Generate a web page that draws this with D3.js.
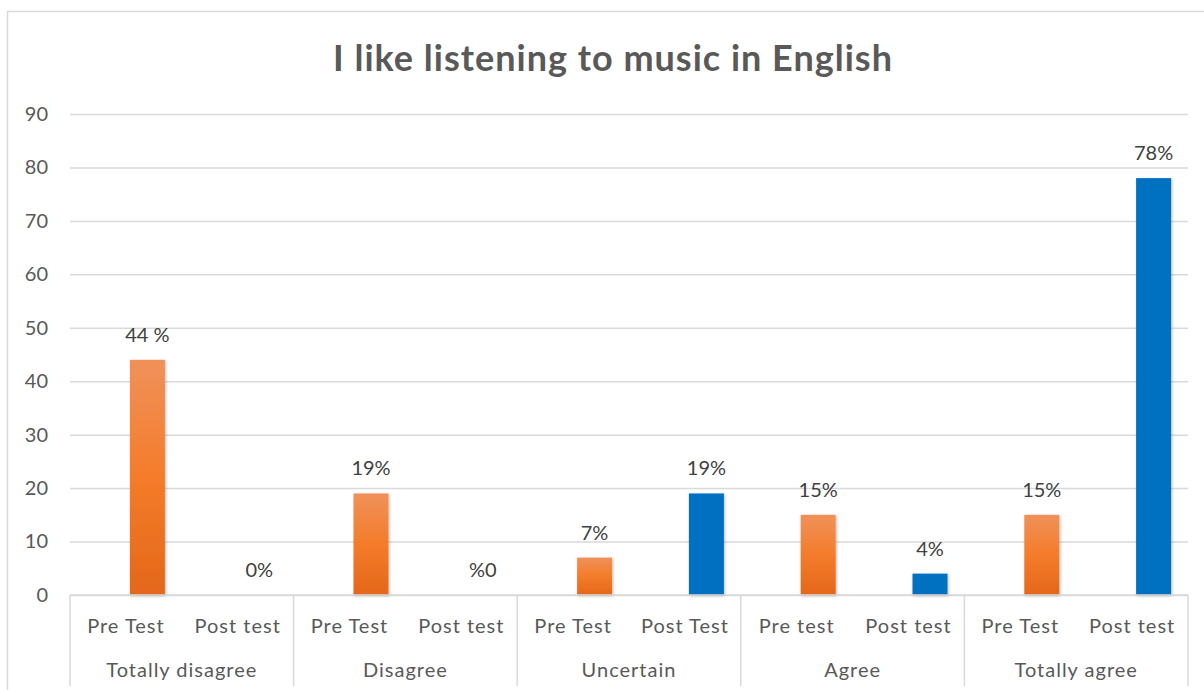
<!DOCTYPE html>
<html>
<head>
<meta charset="utf-8">
<script src="https://cdn.jsdelivr.net/npm/d3@7"></script>
<style>
  html, body { margin: 0; padding: 0; background: #ffffff; }
  svg { display: block; font-family: Lato, "Open Sans", sans-serif; }
</style>
</head>
<body>
<svg id="chart" width="1204" height="690"></svg>
<script>
// Survey responses, pre test vs post test (percent)
const categories = ["Totally disagree", "Disagree", "Uncertain", "Agree", "Totally agree"];
const phaseLabels = [
  ["Pre Test", "Post test"],
  ["Pre Test", "Post test"],
  ["Pre Test", "Post Test"],
  ["Pre test", "Post test"],
  ["Pre Test", "Post test"]
];
const preValues = [44, 19, 7, 15, 15];
const postValues = [0, 0, 19, 4, 78];
const preLabels = ["44 %", "19%", "7%", "15%", "15%"];
const postLabels = ["0%", "%0", "19%", "4%", "78%"];
const yTicks = [0, 10, 20, 30, 40, 50, 60, 70, 80, 90];
const titleText = "I like listening to music in English";

const svg = d3.select("#chart");
const W = 1204, H = 690;
const plot = { left: 70, right: 1188, top: 114, bottom: 595 };
const textColor = "#595959";
const gridColor = "#d9d9d9";

// chart frame
svg.append("path")
  .attr("d", `M7.5,${H + 2} V11.5 H${W + 2}`)
  .attr("fill", "none")
  .attr("stroke", gridColor)
  .attr("stroke-width", 1.5);

// title
svg.append("text")
  .attr("x", 613)
  .attr("y", 71)
  .attr("text-anchor", "middle")
  .attr("fill", textColor)
  .attr("font-size", 36)
  .attr("font-weight", 700)
  .attr("letter-spacing", 1)
  .text(titleText);

// scales
const y = d3.scaleLinear().domain([0, 90]).range([plot.bottom, plot.top]);
const x0 = d3.scaleBand().domain(categories).range([plot.left, plot.right]).padding(0);
const x1 = d3.scaleBand().domain([0, 1]).range([0, x0.bandwidth()]).padding(0);
const xs = d3.scaleBand().domain(["blank", "value"]).range([0, x1.bandwidth()])
  .paddingInner(0.186).paddingOuter(0.393);

// gridlines + y tick labels
const yAxis = svg.append("g")
  .attr("transform", `translate(${plot.left},0)`)
  .call(d3.axisLeft(y).tickValues(yTicks).tickSize(-(plot.right - plot.left)).tickPadding(22).tickFormat(d3.format("d")));
yAxis.select(".domain").remove();
yAxis.selectAll(".tick line").attr("stroke", gridColor).attr("stroke-width", 1.5);
yAxis.selectAll(".tick text")
  .attr("fill", textColor)
  .attr("font-size", 20)
  .attr("font-family", "Lato, 'Open Sans', sans-serif");

// bar rows
const rows = [];
categories.forEach((c, i) => {
  rows.push({ cat: c, phase: 0, value: preValues[i], label: preLabels[i], sub: phaseLabels[i][0] });
  rows.push({ cat: c, phase: 1, value: postValues[i], label: postLabels[i], sub: phaseLabels[i][1] });
});

// fills
const defs = svg.append("defs");
const grad = defs.append("linearGradient")
  .attr("id", "preFill").attr("x1", 0).attr("y1", 0).attr("x2", 0).attr("y2", 1);
grad.append("stop").attr("offset", "0%").attr("stop-color", "#f0915a");
grad.append("stop").attr("offset", "50%").attr("stop-color", "#f47c2a");
grad.append("stop").attr("offset", "100%").attr("stop-color", "#e4671a");
const shadow = defs.append("filter").attr("id", "barShadow")
  .attr("x", "-30%").attr("y", "-10%").attr("width", "160%").attr("height", "120%");
shadow.append("feDropShadow")
  .attr("dx", 1).attr("dy", 1).attr("stdDeviation", 1.6)
  .attr("flood-color", "#000").attr("flood-opacity", 0.25);

const barX = d => x0(d.cat) + x1(d.phase) + xs("value");

svg.append("g").selectAll("rect")
  .data(rows.filter(d => d.value > 0))
  .join("rect")
  .attr("x", barX)
  .attr("width", xs.bandwidth())
  .attr("y", d => y(d.value))
  .attr("height", d => y(0) - y(d.value))
  .attr("fill", d => d.phase === 0 ? "url(#preFill)" : "#0070c0")
  .attr("filter", "url(#barShadow)");

// value labels
svg.append("g").selectAll("text")
  .data(rows)
  .join("text")
  .attr("x", d => barX(d) + xs.bandwidth() / 2)
  .attr("y", d => y(d.value) - 18)
  .attr("text-anchor", "middle")
  .attr("fill", "#404040")
  .attr("font-size", 20)
  .text(d => d.label);

// x axis: baseline and category separators
const axisG = svg.append("g");
axisG.append("line")
  .attr("x1", plot.left).attr("x2", plot.right)
  .attr("y1", y(0)).attr("y2", y(0))
  .attr("stroke", gridColor).attr("stroke-width", 1.5);
const sepX = categories.map(c => x0(c)).concat([plot.right]);
axisG.selectAll("line.sep")
  .data(sepX)
  .join("line")
  .attr("class", "sep")
  .attr("x1", d => d).attr("x2", d => d)
  .attr("y1", y(0)).attr("y2", 686)
  .attr("stroke", gridColor).attr("stroke-width", 1.5);

// phase labels
axisG.selectAll("text.sub")
  .data(rows)
  .join("text")
  .attr("class", "sub")
  .attr("x", d => x0(d.cat) + x1(d.phase) + x1.bandwidth() / 2)
  .attr("y", 633)
  .attr("text-anchor", "middle")
  .attr("fill", textColor)
  .attr("font-size", 20)
  .attr("letter-spacing", 1)
  .text(d => d.sub);

// category labels
axisG.selectAll("text.cat")
  .data(categories)
  .join("text")
  .attr("class", "cat")
  .attr("x", d => x0(d) + x0.bandwidth() / 2)
  .attr("y", 677)
  .attr("text-anchor", "middle")
  .attr("fill", textColor)
  .attr("font-size", 20)
  .attr("letter-spacing", 1)
  .text(d => d);
</script>
</body>
</html>
